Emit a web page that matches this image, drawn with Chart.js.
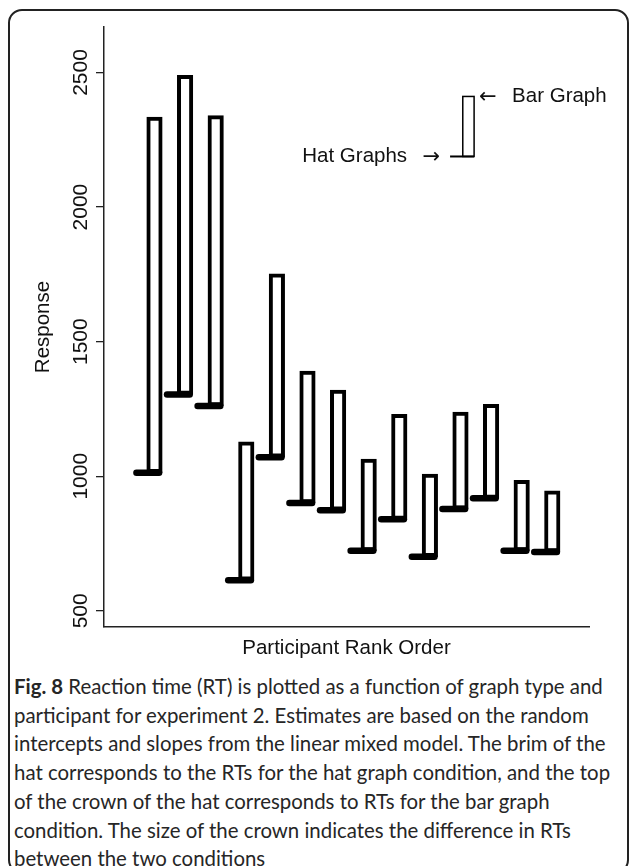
<!DOCTYPE html>
<html>
<head>
<meta charset="utf-8">
<script src="https://cdn.jsdelivr.net/npm/chart.js@4.4.1/dist/chart.umd.min.js"></script>
<style>
  html, body { margin: 0; padding: 0; background: #fff; }
  body { width: 629px; height: 866px; position: relative; overflow: hidden; }
  .card {
    position: absolute; left: 8px; top: 9px; width: 621px; height: 865px;
    border: 2px solid #222; border-radius: 14px; box-sizing: border-box;
  }
  #hats { position: absolute; left: 0; top: 0; }
  .caption {
    position: absolute; left: 14px; top: 672px;
    font-family: Lato, "Open Sans", sans-serif; font-size: 20.4px;
    line-height: 28.7px; color: #262626; white-space: nowrap;
  }
  .caption b { font-weight: 700; }
</style>
</head>
<body>
<div class="card"></div>
<canvas id="hats" width="629" height="670"></canvas>
<div class="caption">
  <b>Fig. 8</b> Reaction time (RT) is plotted as a function of graph type and<br>
  participant for experiment 2. Estimates are based on the random<br>
  intercepts and slopes from the linear mixed model. The brim of the<br>
  hat corresponds to the RTs for the hat graph condition, and the top<br>
  of the crown of the hat corresponds to RTs for the bar graph<br>
  condition. The size of the crown indicates the difference in RTs<br>
  between the two conditions
</div>
<script>
// participants, in rank order
const ranks = [1, 2, 3, 4, 5, 6, 7, 8, 9, 10, 11, 12, 13, 14];
// RT (ms) in the hat graph condition -> brim of each hat
const hatRT = [1013, 1304, 1261, 614, 1071, 901, 874, 723, 840, 701, 878, 918, 723, 719];
// RT (ms) in the bar graph condition -> top of each crown
const barRT = [2334, 2489, 2340, 1128, 1752, 1391, 1320, 1064, 1230, 1008, 1238, 1267, 985, 946];
const yTicks = [500, 1000, 1500, 2000, 2500];

// little example hat used as the key
const keyRank = 11.26;
const keyHat = 2188;
const keyBar = 2411;

const labelFont = '20.5px "Liberation Sans", Arial, sans-serif';
const arrowFont = '21px "DejaVu Sans", sans-serif';

const hatParts = {
  id: 'hatParts',
  afterDatasetsDraw(chart) {
    const { ctx, scales: { x, y } } = chart;
    ctx.save();
    // brims
    ctx.strokeStyle = '#000';
    ctx.lineWidth = 6.5;
    ctx.lineCap = 'round';
    ranks.forEach((r, i) => {
      const yy = y.getPixelForValue(hatRT[i]);
      ctx.beginPath();
      ctx.moveTo(x.getPixelForValue(r - 0.59), yy);
      ctx.lineTo(x.getPixelForValue(r + 0.15), yy);
      ctx.stroke();
    });

    // key hat
    const cl = x.getPixelForValue(keyRank - 0.185);
    const cr = x.getPixelForValue(keyRank + 0.185);
    const yTop = y.getPixelForValue(keyBar);
    const yBrim = y.getPixelForValue(keyHat);
    ctx.lineCap = 'butt';
    ctx.lineWidth = 1.5;
    ctx.strokeRect(cl, yTop, cr - cl, yBrim - yTop);
    ctx.lineWidth = 2;
    const bl = x.getPixelForValue(keyRank - 0.6);
    ctx.beginPath();
    ctx.moveTo(bl, yBrim);
    ctx.lineTo(cr, yBrim);
    ctx.stroke();

    ctx.fillStyle = '#111';
    ctx.textBaseline = 'middle';
    ctx.font = arrowFont;
    ctx.textAlign = 'left';
    ctx.fillText('\u2190', cr + 5, yTop + 1);
    ctx.textAlign = 'right';
    ctx.fillText('\u2192', bl - 10, yBrim + 1);
    ctx.font = labelFont;
    ctx.textAlign = 'left';
    ctx.fillText('Bar Graph', cr + 38, yTop);
    ctx.textAlign = 'right';
    ctx.fillText('Hat Graphs', bl - 43, yBrim);
    ctx.restore();
  },
  afterDraw(chart) {
    // y tick labels run along the axis, like base R
    const { ctx, scales: { y } } = chart;
    ctx.save();
    ctx.fillStyle = '#111';
    ctx.font = '21px "Liberation Sans", Arial, sans-serif';
    ctx.textAlign = 'center';
    ctx.textBaseline = 'alphabetic';
    y.ticks.forEach(t => {
      ctx.save();
      ctx.translate(y.right - 17, y.getPixelForValue(t.value));
      ctx.rotate(-Math.PI / 2);
      ctx.fillText(String(t.value), 0, 0);
      ctx.restore();
    });
    ctx.restore();
  }
};

new Chart(document.getElementById('hats'), {
  type: 'bar',
  data: {
    datasets: [{
      label: 'Bar Graph',
      data: ranks.map((r, i) => ({ x: r, y: [hatRT[i], barRT[i]] })),
      backgroundColor: '#fff',
      borderColor: '#000',
      borderWidth: 4,
      borderSkipped: false,
      barThickness: 15.5
    }]
  },
  options: {
    responsive: false,
    animation: false,
    devicePixelRatio: 1,
    layout: { padding: { top: 27, right: 40, left: 0, bottom: 0 } },
    plugins: { legend: { display: false }, tooltip: { enabled: false } },
    scales: {
      x: {
        type: 'linear', min: -0.65, max: 15.2, offset: false,
        grid: { display: false },
        ticks: { display: false },
        border: { display: true, color: '#222', width: 1.5 },
        title: {
          display: true, text: 'Participant Rank Order', color: '#111',
          font: { family: '"Liberation Sans", Arial, sans-serif', size: 20.5 },
          padding: { top: 0, bottom: 9 }
        },
        afterFit: s => { s.height = 43; }
      },
      y: {
        type: 'linear', min: 440, max: 2669,
        afterBuildTicks: s => { s.ticks = yTicks.map(v => ({ value: v })); },
        ticks: { display: false },
        grid: { drawOnChartArea: false, tickLength: 8, color: '#222', lineWidth: 1.3 },
        border: { display: true, color: '#222', width: 1.5 },
        title: {
          display: true, text: 'Response', color: '#111',
          font: { family: '"Liberation Sans", Arial, sans-serif', size: 20.5 },
          padding: { top: 31, bottom: 0 }
        },
        afterFit: s => { s.width = 104; }
      }
    }
  },
  plugins: [hatParts]
});
</script>
</body>
</html>
